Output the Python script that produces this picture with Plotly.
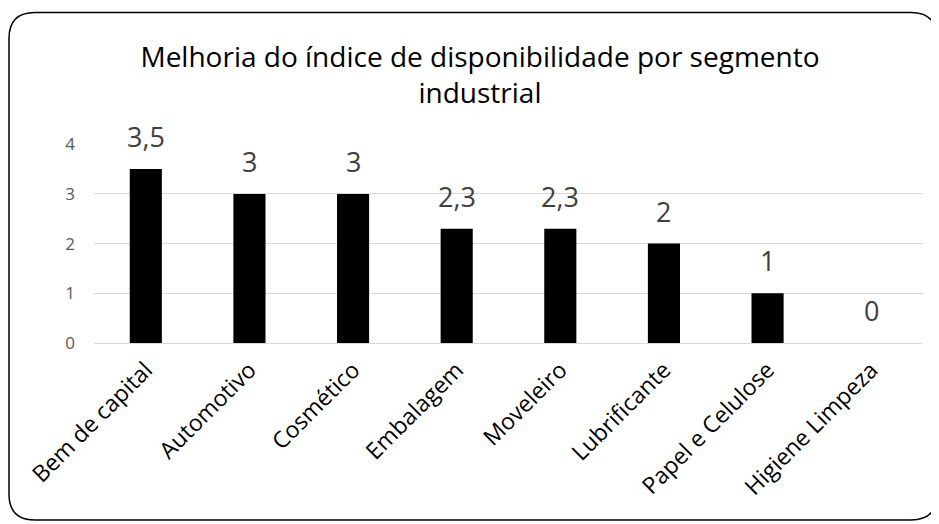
import plotly.graph_objects as go

categories = ["Bem de capital", "Automotivo", "Cosmético", "Embalagem",
              "Moveleiro", "Lubrificante", "Papel e Celulose", "Higiene Limpeza"]
values = [3.5, 3, 3, 2.3, 2.3, 2, 1, 0]
value_labels = ["3,5", "3", "3", "2,3", "2,3", "2", "1", "0"]
y_ticks = [0, 1, 2, 3, 4]

# page body has an 8px margin, so the figure is drawn 8px in from the window
W, H = 931, 516
L, R, T, B = 86, 16, 136, 181
pw, ph = W - L - R, H - T - B

def px(x):
    return (x - L) / pw

def py(y):
    return (H - B - y) / ph

FONT = "Open Sans"

fig = go.Figure()
fig.add_trace(go.Bar(
    x=categories, y=values,
    marker=dict(color="#000000", line=dict(width=0)),
    width=0.31,
    hoverinfo="skip",
))

annotations = []
for c, v, t in zip(categories, values, value_labels):
    annotations.append(dict(
        x=c, y=v, xref="x", yref="y", text=t, showarrow=False,
        yanchor="bottom", yshift=12,
        font=dict(family=FONT, size=27, color="#404040"),
    ))

# rounded border
x0, x1, y0, y1, r = 1, 929, 4.5, 512, 26
path = (f"M {px(x0+r)} {py(y0)} L {px(x1-r)} {py(y0)} "
        f"Q {px(x1)} {py(y0)} {px(x1)} {py(y0+r)} "
        f"L {px(x1)} {py(y1-r)} Q {px(x1)} {py(y1)} {px(x1-r)} {py(y1)} "
        f"L {px(x0+r)} {py(y1)} Q {px(x0)} {py(y1)} {px(x0)} {py(y1-r)} "
        f"L {px(x0)} {py(y0+r)} Q {px(x0)} {py(y0)} {px(x0+r)} {py(y0)} Z")

fig.update_layout(
    width=W, height=H,
    margin=dict(l=L, r=R, t=T, b=B),
    paper_bgcolor="white", plot_bgcolor="white",
    showlegend=False,
    title=dict(
        text="Melhoria do índice de disponibilidade por segmento<br>industrial",
        x=472 / W, xref="container", xanchor="center",
        y=1 - 59 / H, yref="container", yanchor="middle",
        font=dict(family=FONT, size=28, color="#000000"),
    ),
    xaxis=dict(
        tickangle=-45, showgrid=False, showline=False, ticks="",
        ticklabelstandoff=8,
        tickfont=dict(family=FONT, size=23, color="#000000"),
    ),
    yaxis=dict(
        range=[0, 4.004], tickvals=y_ticks, showgrid=True, gridcolor="#d9d9d9",
        gridwidth=1, zeroline=True, zerolinecolor="#d9d9d9", zerolinewidth=1,
        showline=False, ticks="", ticklabelstandoff=18,
        tickfont=dict(family=FONT, size=17, color="#595959"),
    ),
    annotations=annotations,
    shapes=[dict(type="path", path=path, xref="paper", yref="paper",
                 line=dict(color="#000000", width=1.5), layer="above")],
)

fig.write_html("out.html")
